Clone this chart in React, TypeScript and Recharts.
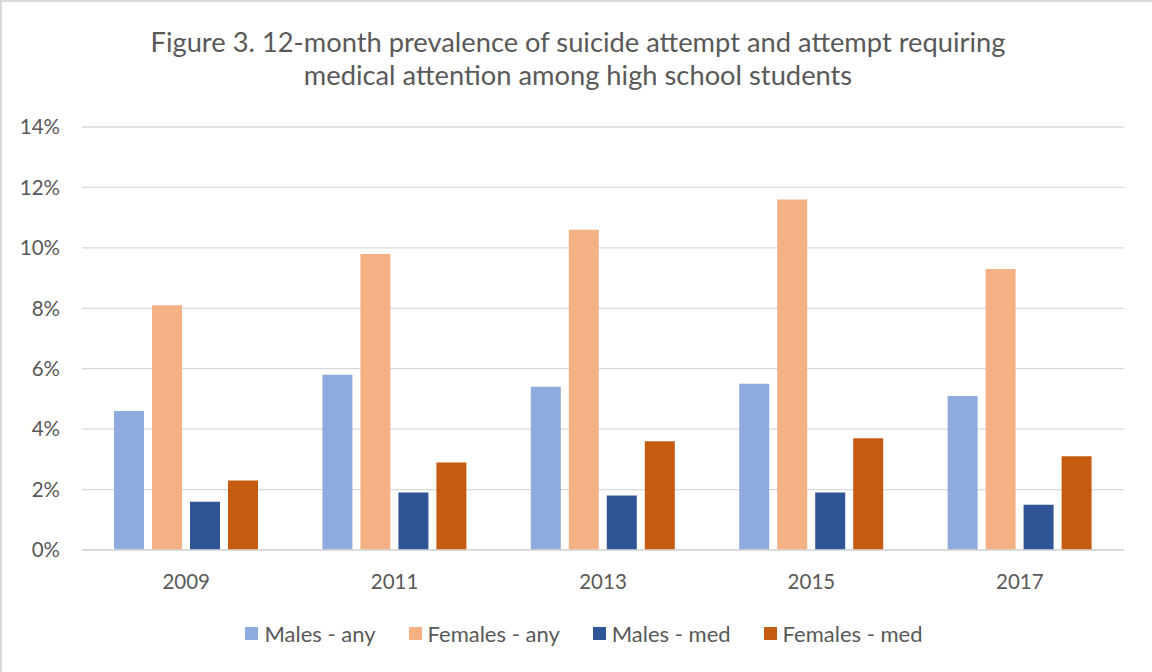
import { BarChart, Bar, XAxis, YAxis, CartesianGrid, Legend } from 'recharts';

const years = ['2009', '2011', '2013', '2015', '2017'];
const malesAny = [4.6, 5.8, 5.4, 5.5, 5.1];
const femalesAny = [8.1, 9.8, 10.6, 11.6, 9.3];
const malesMed = [1.6, 1.9, 1.8, 1.9, 1.5];
const femalesMed = [2.3, 2.9, 3.6, 3.7, 3.1];
const yTicks = [0, 2, 4, 6, 8, 10, 12, 14];

const seriesNames = ['Males - any', 'Females - any', 'Males - med', 'Females - med'];
const seriesColors = ['#8faadc', '#f4b183', '#2f5597', '#c55a11'];

const data = years.map((year, i) => ({
  year,
  malesAny: malesAny[i],
  femalesAny: femalesAny[i],
  malesMed: malesMed[i],
  femalesMed: femalesMed[i],
}));

const font = 'Lato, "Open Sans", sans-serif';
const textColor = '#595959';

function ChartLegend() {
  return (
    <div
      style={{
        display: 'flex',
        justifyContent: 'center',
        alignItems: 'center',
        height: 40,
        paddingTop: 6,
        paddingLeft: 44,
        boxSizing: 'border-box',
        gap: 33,
        fontSize: 22,
        color: textColor,
        fontFamily: font,
      }}
    >
      {seriesNames.map((name, i) => (
        <div key={name} style={{ display: 'flex', alignItems: 'center', gap: 6 }}>
          <span style={{ width: 13, height: 13, background: seriesColors[i], display: 'inline-block' }} />
          <span>{name}</span>
        </div>
      ))}
    </div>
  );
}

export default function App() {
  return (
    <div
      style={{
        position: 'absolute',
        left: 0,
        top: 0,
        width: 1152,
        height: 672,
        background: '#fff',
        fontFamily: font,
        borderLeft: '2px solid #d9d9d9',
        borderTop: '2px solid #d9d9d9',
        boxSizing: 'border-box',
      }}
    >
      <div
        style={{
          position: 'absolute',
          top: 23,
          left: 0,
          width: 1152,
          textAlign: 'center',
          fontSize: 27.3,
          lineHeight: '33px',
          color: textColor,
        }}
      >
        Figure 3. 12-month prevalence of suicide attempt and attempt requiring
        <br />
        medical attention among high school students
      </div>
      <div style={{ position: 'absolute', left: -2, top: -2 }}>
        <BarChart
          width={1152}
          height={672}
          data={data}
          margin={{ top: 127, right: 28, left: 0, bottom: 22 }}
          barGap={8}
          barSize={30}
        >
          <CartesianGrid vertical={false} stroke="#d9d9d9" strokeWidth={1.3} />
          <XAxis
            dataKey="year"
            axisLine={{ stroke: '#d9d9d9', strokeWidth: 1.3 }}
            tickLine={false}
            tick={{ fontSize: 20.5, fill: textColor, fontFamily: font }}
            tickMargin={18}
            height={60}
          />
          <YAxis
            width={82}
            domain={[0, 14]}
            ticks={yTicks}
            interval={0}
            axisLine={false}
            tickLine={false}
            tickSize={0}
            tickMargin={22}
            tickFormatter={(v) => `${v}%`}
            tick={{ fontSize: 20.5, fill: textColor, fontFamily: font }}
          />
          <Legend verticalAlign="bottom" height={40} content={() => <ChartLegend />} />
          <Bar dataKey="malesAny" name={seriesNames[0]} fill={seriesColors[0]} isAnimationActive={false} />
          <Bar dataKey="femalesAny" name={seriesNames[1]} fill={seriesColors[1]} isAnimationActive={false} />
          <Bar dataKey="malesMed" name={seriesNames[2]} fill={seriesColors[2]} isAnimationActive={false} />
          <Bar dataKey="femalesMed" name={seriesNames[3]} fill={seriesColors[3]} isAnimationActive={false} />
        </BarChart>
      </div>
    </div>
  );
}
